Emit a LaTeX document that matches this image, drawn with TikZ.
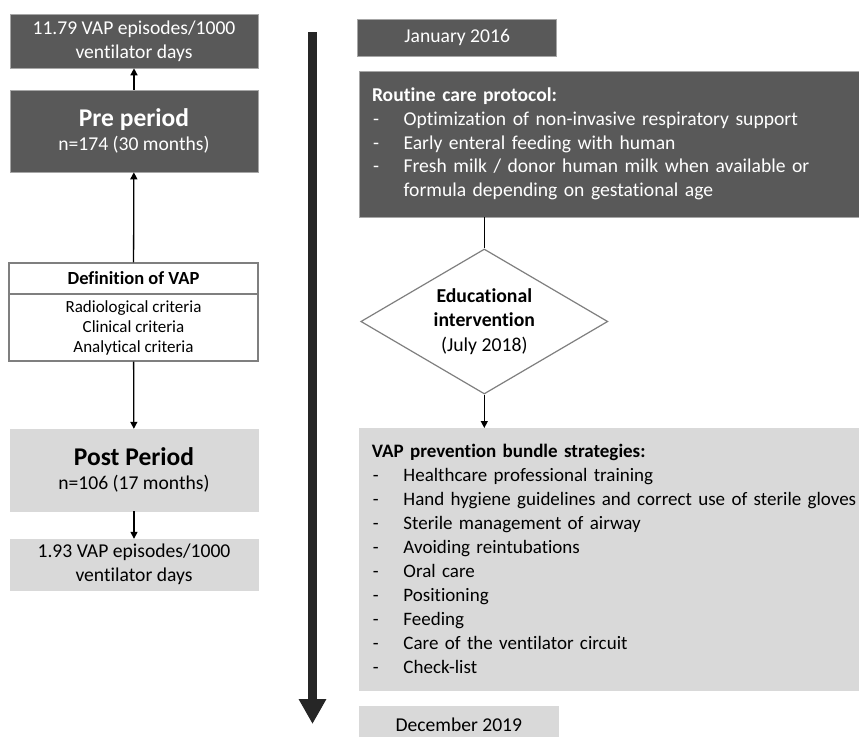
\documentclass[tikz,border=0pt]{standalone}
\usepackage{fontspec}
\setmainfont{Carlito}[Ligatures=NoCommon]
\usetikzlibrary{shapes.geometric,arrows.meta}
\definecolor{darkfill}{HTML}{595959}
\definecolor{lightfill}{HTML}{D9D9D9}
\definecolor{tlgray}{HTML}{262626}
\definecolor{edgegray}{HTML}{7F7F7F}
\newcommand{\normsz}{\fontsize{19.6}{23.8}\selectfont}
\newcommand{\smallsz}{\fontsize{17}{20}\selectfont}
\newcommand{\midsz}{\fontsize{18.5}{22}\selectfont}
\newcommand{\bigsz}{\fontsize{25.5}{28}\selectfont}
\newcommand{\itm}[1]{\mbox{\hspace*{1pt}\makebox[30.6pt][l]{-}#1}}

\begin{document}
\begin{tikzpicture}[x=1pt,y=-1pt,
    darkbox/.style={rectangle,fill=darkfill,draw=gray!70,line width=0.6pt,text=white,font=\normsz,align=center,inner sep=0pt},
    lightbox/.style={rectangle,fill=lightfill,draw=lightfill,font=\normsz,align=center,inner sep=0pt},
    defbox/.style={rectangle,draw=edgegray,line width=1.2pt,fill=white,align=center,inner sep=0pt,minimum width=249pt},
    edubox/.style={diamond,draw=edgegray,line width=1.2pt,fill=white,aspect=1.7,minimum width=247pt,minimum height=145pt,inner sep=0pt,align=center,font=\fontsize{19.7}{24.5}\selectfont},
    link/.style={line width=1.3pt,-{Triangle[length=7pt,width=7pt]}}]
    \useasboundingbox (0,0) rectangle (859,736);
    \clip (0,0) rectangle (859,736);

    % left column
    \node[darkbox,minimum width=248pt,minimum height=54pt] (rate1) at (134,41) {11.79 VAP episodes/1000\\ventilator days};
    \node[darkbox,minimum width=248pt,minimum height=82pt] (pre) at (134,131) {{\bigsz\bfseries Pre period}\\n=174 (30 months)};
    \node[defbox,minimum height=31pt,font=\midsz\bfseries] (defhead) at (133.5,278.5) {Definition of VAP};
    \node[defbox,minimum height=67pt,font=\smallsz] (defbody) at (133.5,327.5) {Radiological criteria\\Clinical criteria\\Analytical criteria};
    \node[lightbox,minimum width=248pt,minimum height=82pt] (post) at (134,470) {{\bigsz\bfseries Post Period}\\n=106 (17 months)};
    \node[lightbox,minimum width=248pt,minimum height=51pt] (rate2) at (134,564.5) {1.93 VAP episodes/1000\\ventilator days};

    \draw[link] (pre) -- (rate1);
    \draw[link] (defhead) -- (pre);
    \draw[link] (defbody) -- (post);
    \draw[link] (post) -- (rate2);

    % timeline
    \coordinate (tstart) at (312.5,32);
    \coordinate (tend) at (312.5,724);
    \draw[tlgray,line width=9pt,-{Triangle[length=25pt,width=26pt]}] (tstart) -- (tend);

    % right column
    \node[darkbox,minimum width=199pt,minimum height=37pt] (jan) at (457.2,37.5) {January 2016};
    \node[darkbox,anchor=north west,minimum height=146pt,align=left,text width=520pt,inner xsep=12.4pt] (routine) at (359.3,70.7) {%
	{\bfseries Routine care protocol:}\\
	\itm{Optimization of non-invasive respiratory support}\\
	\itm{Early enteral feeding with human}\\
	\itm{Fresh milk / donor human milk when available or}\\
	\hspace*{31.6pt}formula depending on gestational age};
    \node[edubox] (edu) at (484.3,321.5) {\textbf{Educational}\\\textbf{intervention}\\(July 2018)};
    \node[lightbox,anchor=north west,minimum height=262pt,align=left,text width=520pt,inner xsep=12.4pt,font=\fontsize{19}{24}\selectfont] (bundle) at (359.3,428) {%
	{\bfseries VAP prevention bundle strategies:}\\
	\itm{Healthcare professional training}\\
	\itm{Hand hygiene guidelines and correct use of sterile gloves}\\
	\itm{Sterile management of airway}\\
	\itm{Avoiding reintubations}\\
	\itm{Oral care}\\
	\itm{Positioning}\\
	\itm{Feeding}\\
	\itm{Care of the ventilator circuit}\\
	\itm{Check-list}};
    \node[lightbox,minimum width=199pt,minimum height=38pt] (dec) at (458.8,725) {December 2019};

    \draw[line width=1.3pt] (routine.south -| edu.north) -- (edu.north);
    \draw[link] (edu.south) -- (edu.south |- bundle.north);
\end{tikzpicture}
\end{document}
